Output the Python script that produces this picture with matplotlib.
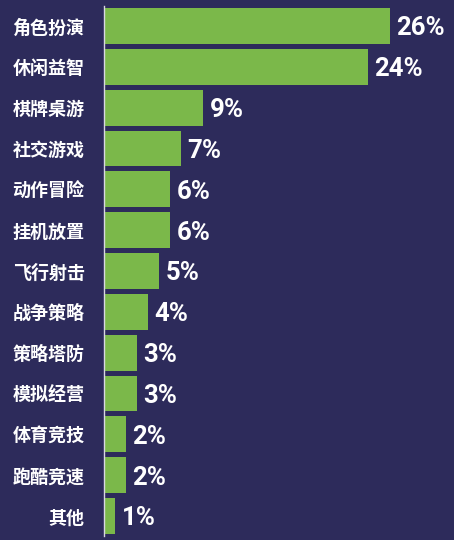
import matplotlib
matplotlib.use("Agg")
import matplotlib.pyplot as plt

categories = ["角色扮演", "休闲益智", "棋牌桌游", "社交游戏", "动作冒险", "挂机放置",
              "飞行射击", "战争策略", "策略塔防", "模拟经营", "体育竞技", "跑酷竞速", "其他"]
values = [26, 24, 9, 7, 6, 6, 5, 4, 3, 3, 2, 2, 1]

BG = "#2d2b5b"
GREEN = "#7bb84a"

plt.rcParams['font.family'] = ['Noto Sans CJK SC', 'DejaVu Sans']

fig = plt.figure(figsize=(4.54, 5.40), dpi=100, facecolor=BG)
ax = fig.add_axes([104 / 454, 3.6 / 540, 330 / 454, 530.8 / 540])
ax.set_facecolor(BG)

ys = range(len(categories))
ax.barh(ys, values, height=0.88, color=GREEN)
ax.set_ylim(len(categories) - 0.5, -0.5)
ax.set_xlim(0, 30)

for y, v in zip(ys, values):
    ax.text(v + 0.6, y + 0.06, "%d%%" % v, color="white", fontsize=18.5,
            family=["Roboto", "DejaVu Sans"], fontweight="bold",
            va="center", ha="left")

ax.set_yticks(list(ys))
ax.set_yticklabels(categories, color="white", fontsize=13, fontweight="heavy")
ax.tick_params(axis="y", length=0, pad=14)
ax.set_xticks([])

for side in ["top", "right", "bottom"]:
    ax.spines[side].set_visible(False)
ax.spines["left"].set_color("#d8d8e0")
ax.spines["left"].set_linewidth(1.0)

fig.savefig("out.png", dpi=100, facecolor=BG)
